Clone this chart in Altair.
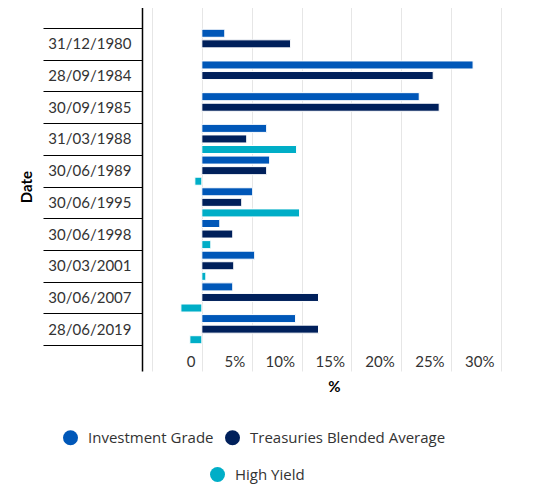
import altair as alt
import pandas as pd

# Datos (rentabilidad en %)
dates = ["31/12/1980", "28/09/1984", "30/09/1985", "31/03/1988", "30/06/1989",
         "30/06/1995", "30/06/1998", "30/03/2001", "30/06/2007", "28/06/2019"]
series = ["Investment Grade", "Treasuries Blended Average", "High Yield"]
investment_grade = [2.3, 27.2, 21.8, 6.5, 6.8, 5.1, 1.8, 5.3, 3.1, 9.4]
treasuries = [8.9, 23.2, 23.8, 4.5, 6.5, 4.0, 3.1, 3.2, 11.7, 11.7]
high_yield = [None, None, None, 9.5, -0.7, 9.8, 0.9, 0.4, -2.1, -1.2]
colors = ["#0057B8", "#00205B", "#00AEC7"]
x_ticks = [-5, 0, 5, 10, 15, 20, 25, 30]

rows = []
for name, vals in zip(series, [investment_grade, treasuries, high_yield]):
    for d, v in zip(dates, vals):
        if v is not None:
            rows.append({"Date": d, "Series": name, "Value": v})
df = pd.DataFrame(rows)

FONT = "Lato"

y_enc = alt.Y(
    "Date:N", sort=dates,
    scale=alt.Scale(paddingInner=0, paddingOuter=0.82),
    axis=alt.Axis(
        title="Date", titleFontWeight="bold", titleFontSize=15, titleColor="#000",
        titlePadding=8, domainColor="#000", domainWidth=1.5,
        tickColor="#000", tickSize=99, tickBand="extent", tickWidth=1,
        labelPadding=-88, labelFontSize=15, labelColor="#333", grid=False,
    ),
)
x_enc = alt.X(
    "Value:Q",
    scale=alt.Scale(domain=[-6, 30], nice=False, zero=False),
    axis=alt.Axis(
        values=x_ticks, title="%", titleFontWeight="bold", titleFontSize=15,
        titleColor="#000", titleX=192, titleY=15, titleBaseline="middle",
        labelExpr="datum.value < 0 ? '' : datum.value == 0 ? '0' : datum.value + '%'",
        labelAlign="right", labelOffset=-7, labelPadding=-17,
        labelFontSize=15, labelColor="#333",
        domain=False, ticks=False, grid=True, gridColor="#e6e6e6",
    ),
)
yoff_enc = alt.YOffset(
    "Series:N", sort=series,
    scale=alt.Scale(domain=series, paddingInner=0.24, paddingOuter=0.12),
)

legend_style = dict(
    orient="none", direction="horizontal", title=None, symbolType="circle",
    symbolSize=225, symbolStrokeWidth=0, labelFontSize=15, labelColor="#333",
    labelFont="Open Sans", labelOffset=10, columnPadding=11, labelLimit=400,
)

main = alt.Chart(df[df["Series"] != "High Yield"]).mark_bar(
    stroke="white", strokeWidth=1
).encode(
    x=x_enc, y=y_enc, yOffset=yoff_enc,
    color=alt.Color(
        "Series:N", sort=series[:2],
        scale=alt.Scale(domain=series[:2], range=colors[:2]),
        legend=alt.Legend(legendX=-79, legendY=428, **legend_style),
    ),
)

hy = alt.Chart(df[df["Series"] == "High Yield"]).mark_bar(
    stroke="white", strokeWidth=1
).encode(
    x=x_enc, y=y_enc, yOffset=yoff_enc,
    color=alt.Color(
        "Series:N",
        scale=alt.Scale(domain=series[2:], range=colors[2:]),
        legend=alt.Legend(legendX=68, legendY=465, **legend_style),
    ),
)

chart = alt.layer(main, hy).resolve_scale(color="independent").properties(
    width=359, height=369,
    padding={"left": 11, "top": -13, "right": 5, "bottom": 5},
).configure(font=FONT).configure_view(stroke=None)

chart.save("out.html", embed_options={"renderer": "svg", "actions": False})
